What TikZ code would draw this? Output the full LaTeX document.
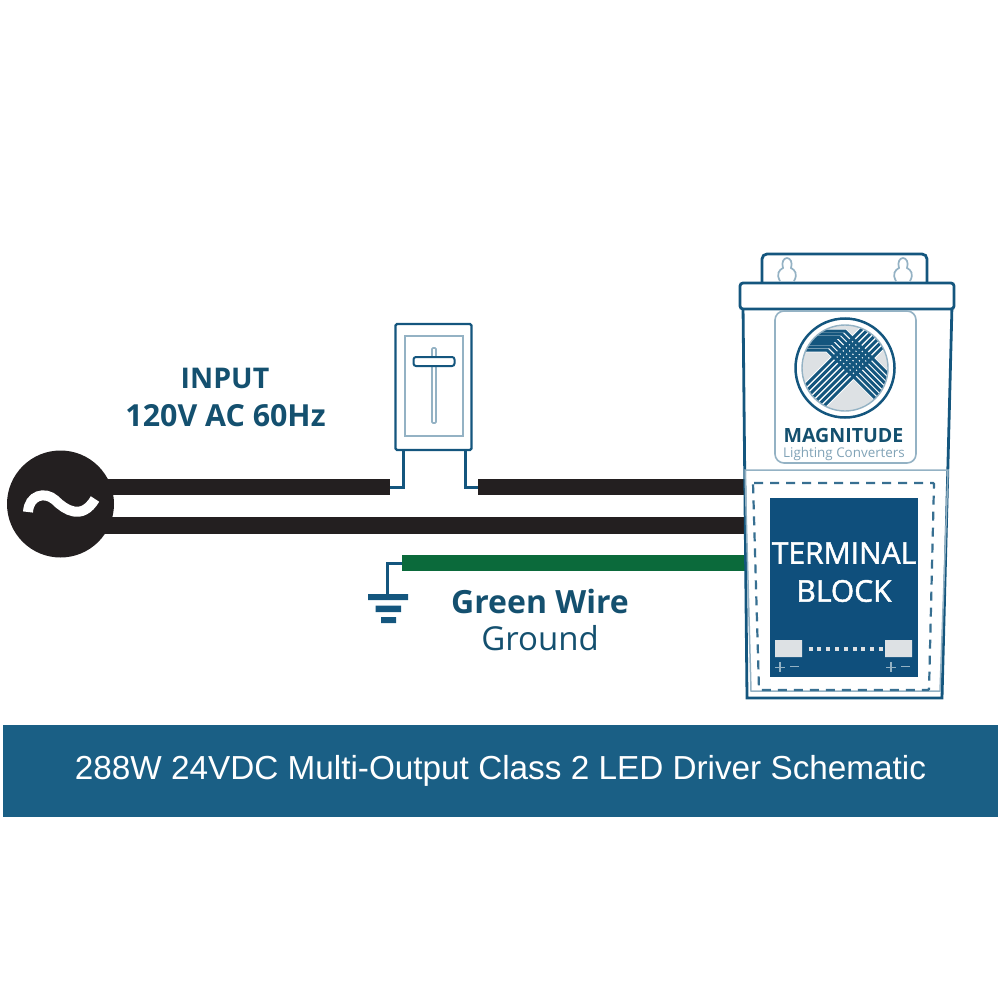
\documentclass[tikz,border=0pt]{standalone}
\usepackage{fontspec}
\setmainfont{Liberation Sans}
\newfontfamily\myr{Open Sans}
\newfontfamily\myrm[FakeBold=1.6]{Open Sans}
\definecolor{navy}{HTML}{14567E}
\definecolor{banner}{HTML}{1A5F85}
\definecolor{blockblue}{HTML}{0F4F7C}
\definecolor{txtblue}{HTML}{14506F}
\definecolor{wireblack}{HTML}{231F20}
\definecolor{wiregreen}{HTML}{0B6A3B}
\definecolor{paleblue}{HTML}{94B2C4}
\definecolor{logogrey}{HTML}{DDE1E4}
\tikzset{
 wire/.style={line width=16.5pt,wireblack},
 gwire/.style={line width=16.5pt,wiregreen},
 thin wire/.style={line width=3pt,navy,line join=miter},
 outline/.style={draw=navy,line width=2.8pt,fill=white},
 pale/.style={draw=paleblue,line width=1.7pt},
 label/.style={inner sep=0pt,font=\myr\bfseries,text=txtblue},
 keyh/.style={pale,fill=white},
}
\begin{document}
\begin{tikzpicture}[x=1pt,y=-1pt]
\useasboundingbox (0,0) rectangle (1000,1000);
% banner
\node[fill=banner,minimum width=995pt,minimum height=92pt,inner sep=0pt,text=white,font=\fontsize{33.3}{36}\selectfont] (banner) at (500.5,771) {\raisebox{-1pt}{288W 24VDC Multi-Output Class 2 LED Driver Schematic}};
% named points
\coordinate (topL) at (100,487);
\coordinate (topM) at (390,487);
\coordinate (topN) at (478,487);
\coordinate (topR) at (745,487);
\coordinate (lowL) at (100,525.5);
\coordinate (lowR) at (745,525.5);
\coordinate (gndL) at (402,563);
\coordinate (gndR) at (745,563);
\coordinate (gndT) at (387,563);
\coordinate (gndB) at (387,596);
% wires
\draw[wire] (topL) -- (topM);
\draw[wire] (topN) -- (topR);
\draw[wire] (lowL) -- (lowR);
\draw[gwire] (gndL) -- (gndR);
% source
\node[circle,fill=wireblack,minimum size=107pt,inner sep=0pt] (source) at (60.5,504) {};
\draw[white,line width=10pt] (28,512) .. controls (29,495) and (45,491) .. (55,500) .. controls (65,510) and (82,521) .. (95,499);
% switch
\node[draw=navy,line width=2.2pt,fill=white,rounded corners=1.5pt,minimum width=76pt,minimum height=126pt,inner sep=0pt] (switch) at (433.5,387) {};
\node[pale,minimum width=58pt,minimum height=100pt,inner sep=0pt] (plate) at (434,386) {};
\node[pale,minimum width=4pt,minimum height=75pt,inner sep=0pt,rounded corners=1pt,fill=white] (slot) at (434,385.5) {};
\node[draw=navy,line width=2pt,fill=white,minimum width=41pt,minimum height=9pt,inner sep=0pt,rounded corners=2.5pt] (handle) at (434,361.5) {};
\draw[thin wire] (403,450) -- (403,487) -- (topM);
\draw[thin wire] (465,450) -- (465,487) -- (topN);
% ground
\draw[thin wire] (gndL) -- (gndT) -- (gndB);
\fill[navy] (368,594) rectangle (408,600) (375.5,605.5) rectangle (401,612) (381,617) rectangle (396,623);
\node[label,font=\myr\bfseries\fontsize{32}{36}\selectfont] (green) at (540,601) {Green Wire};
\node[inner sep=0pt,text=txtblue,font=\myr\fontsize{33}{36}\selectfont] (ground) at (540,638) {Ground};
\node[label,font=\myr\bfseries\fontsize{28.5}{32}\selectfont] (input) at (225,378) {INPUT};
\node[label,font=\myr\bfseries\fontsize{30.4}{32}\selectfont] (volt) at (225.5,416) {120V AC 60Hz};
% driver
\draw[outline,rounded corners=5pt] (762,285) -- (762,254) -- (927,254) -- (927,285);
\foreach \kx in {787,903}{
 \begin{scope}[shift={(\kx,0)}]
 \draw[keyh] (-7,281) .. controls (-11,274) and (-8,270) .. (-4,268) .. controls (-6,262) and (-3,258) .. (0,258) .. controls (3,258) and (6,262) .. (4,268) .. controls (8,270) and (11,274) .. (7,281);
 \end{scope}
}
\draw[outline] (743,305) -- (747,698) -- (942,698) -- (952,305) -- cycle;
\draw[outline,rounded corners=3pt] (740,283) rectangle (954,309);
\node[draw=paleblue,line width=1.6pt,rounded corners=9pt,minimum width=141pt,minimum height=152pt,inner sep=0pt] (logopanel) at (845.5,387) {};
\draw[draw=paleblue,line width=1.5pt] (745,470) -- (948,470) -- (940,691) -- (751,691) -- cycle;
\draw[navy!85,line width=2.2pt,dash pattern=on 9pt off 7pt,rounded corners=1pt] (753,483) -- (934,483) -- (929,690) -- (759,690) -- cycle;
% logo
\node[circle,draw=navy,line width=2.5pt,minimum size=99pt,inner sep=0pt] (logo) at (845,368) {};
\begin{scope}[shift={(845,368)}]
\clip (0,0) circle (43);
\fill[logogrey] (0,0) circle (43);
\foreach \k in {0,...,6}{
 \pgfmathsetmacro{\s}{-22+6.5*\k}
 \pgfmathsetmacro{\t}{\k/6}
 \pgfmathsetmacro{\yy}{-18-19*\t}
 \pgfmathsetmacro{\bx}{-18+18*\t}
 \draw[white,line width=5pt] ({\s/2-50},{\s/2+50}) -- ({\s/2+50},{\s/2-50});
 \draw[white,line width=4.5pt] (-50,\yy) -- (\bx,\yy) -- ({\bx+70},{\yy+70});
}
\foreach \k in {0,...,6}{
 \pgfmathsetmacro{\s}{-22+6.5*\k}
 \pgfmathsetmacro{\t}{\k/6}
 \pgfmathsetmacro{\yy}{-18-19*\t}
 \pgfmathsetmacro{\bx}{-18+18*\t}
 \draw[navy,line width=3pt] ({\s/2-50},{\s/2+50}) -- ({\s/2+50},{\s/2-50});
 \draw[navy,line width=3pt] (-50,\yy) -- (\bx,\yy) -- ({\bx+70},{\yy+70});
}
\end{scope}
\draw[paleblue,line width=1.4pt] (845,368) circle (43);
% block
\node[fill=blockblue,minimum width=148pt,minimum height=179pt,inner sep=0pt] (block) at (844,587.5) {};
\node[inner sep=0pt,text=white,font=\myrm\fontsize{30}{36}\selectfont] (t1) at (844,553) {TERMINAL};
\node[inner sep=0pt,text=white,font=\myrm\fontsize{30}{36}\selectfont] (t2) at (844,591) {BLOCK};
\fill[logogrey] (775,640) rectangle (802,657) (885,640) rectangle (912,657);
\foreach \k in {0,...,8} \fill[logogrey] ({808.5+8.8*\k},647) rectangle ++(4,4);
\foreach \x in {780,891}{
 \draw[paleblue,line width=1.1pt] (\x-5,667.5) -- (\x+5,667.5) (\x,662) -- (\x,672) (\x+10,666.5) -- (\x+19,666.5);
}
\node[inner sep=0pt,text=txtblue,font=\myr\bfseries\fontsize{19.6}{24}\selectfont] (mag) at (843.5,435.5) {MAGNITUDE};
\node[inner sep=0pt,text=paleblue!85!txtblue,font=\myr\fontsize{13.4}{16}\selectfont] (lc) at (844,454) {Lighting Converters};
\end{tikzpicture}
\end{document}
